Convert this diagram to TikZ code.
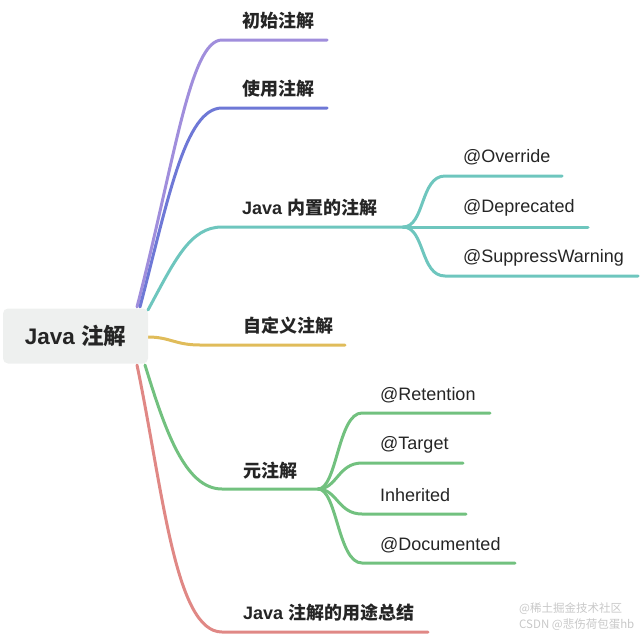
\documentclass[tikz,border=0pt]{standalone}
\usepackage{fontspec}
\setmainfont{Liberation Sans}
\newfontfamily\cjk{Noto Sans CJK SC}
\newcommand\zh[1]{{\cjk #1}}
\definecolor{cpurple}{HTML}{A08EDC}
\definecolor{cblue}{HTML}{6E78D6}
\definecolor{cteal}{HTML}{6EC6BE}
\definecolor{cyellow}{HTML}{E0BC5A}
\definecolor{cgreen}{HTML}{72C17F}
\definecolor{cred}{HTML}{E08885}
\definecolor{txt}{HTML}{252525}
\definecolor{rootfill}{HTML}{EEF0EF}
\definecolor{wm}{HTML}{C8C8C8}
\begin{document}
\begin{tikzpicture}[x=1pt,y=-1pt,
  br/.style={line width=3pt, line cap=round},
  lab/.style={anchor=west, inner sep=0pt, font=\fontsize{18}{21}\selectfont\bfseries, text=txt},
  sub/.style={anchor=west, inner sep=0pt, font=\fontsize{18}{21}\selectfont, text=txt},
  rootbox/.style={draw=none, fill=rootfill, rounded corners=5pt, minimum width=145pt, minimum height=55pt, inner sep=0pt, font=\fontsize{22.5}{26}\selectfont\bfseries, text=txt}]
\useasboundingbox (0,0) rectangle (640,635);
% start points at the root box
\coordinate (s1) at (137,307);
\coordinate (s2) at (140,307);
\coordinate (s3) at (148,310);
\coordinate (s4) at (148,337);
\coordinate (s5) at (145,365);
\coordinate (s6) at (137,365);
% branch ends
\coordinate (b1) at (222,40);  \coordinate (e1) at (327,40);
\coordinate (b2) at (222,108); \coordinate (e2) at (327,108);
\coordinate (b3) at (222,227); \coordinate (j3) at (403,227);
\coordinate (b4) at (200,345); \coordinate (e4) at (345,345);
\coordinate (b5) at (222,489); \coordinate (j5) at (318,489);
\coordinate (b6) at (222,632); \coordinate (e6) at (428,632);
% teal children
\coordinate (t1) at (445,176); \coordinate (t1e) at (562,176);
\coordinate (t2e) at (588,227);
\coordinate (t3) at (445,276); \coordinate (t3e) at (638,276);
% green children
\coordinate (g1) at (362,413); \coordinate (g1e) at (490,413);
\coordinate (g2) at (362,463); \coordinate (g2e) at (463,463);
\coordinate (g3) at (362,514); \coordinate (g3e) at (466,514);
\coordinate (g4) at (362,563); \coordinate (g4e) at (515,563);

\draw[br, cpurple] (s1) .. controls (175,160) and (190,40) .. (b1) -- (e1);
\draw[br, cblue] (s2) .. controls (168,200) and (185,108) .. (b2) -- (e2);
\draw[br, cteal] (s3) .. controls (175,260) and (190,227) .. (b3) -- (j3);
\draw[br, cyellow] (s4) .. controls (170,337) and (175,345) .. (b4) -- (e4);
\draw[br, cgreen] (s5) .. controls (165,430) and (185,489) .. (b5) -- (j5);
\draw[br, cred] (s6) .. controls (163,490) and (175,632) .. (b6) -- (e6);

\draw[br, cteal] (j3) .. controls (425,227) and (420,176) .. (t1) -- (t1e);
\draw[br, cteal] (j3) -- (t2e);
\draw[br, cteal] (j3) .. controls (425,227) and (420,276) .. (t3) -- (t3e);

\draw[br, cgreen] (j5) .. controls (337,489) and (338,413) .. (g1) -- (g1e);
\draw[br, cgreen] (j5) .. controls (337,489) and (338,463) .. (g2) -- (g2e);
\draw[br, cgreen] (j5) .. controls (337,489) and (338,514) .. (g3) -- (g3e);
\draw[br, cgreen] (j5) .. controls (337,489) and (338,563) .. (g4) -- (g4e);

\node[rootbox] (root) at (75.5,336) {Java \zh{注解}};

\node[lab] (n1) at (242,21) {\zh{初始注解}};
\node[lab] (n2) at (242,89) {\zh{使用注解}};
\node[lab] (n3) at (242,208) {Java \zh{内置的注解}};
\node[lab] (n4) at (243,326) {\zh{自定义注解}};
\node[lab] (n5) at (243,471) {\zh{元注解}};
\node[lab] (n6) at (243,613) {Java \zh{注解的用途总结}};

\node[sub] (c1) at (463,157) {@Override};
\node[sub] (c2) at (463,208) {@Deprecated};
\node[sub] (c3) at (463,258) {@SuppressWarning};

\node[sub] (d1) at (380,395) {@Retention};
\node[sub] (d2) at (380,445) {@Target};
\node[sub] (d3) at (380,495) {Inherited};
\node[sub] (d4) at (380,545) {@Documented};

\node[anchor=west, inner sep=0pt, text=wm, font=\fontsize{11.5}{13}\selectfont\cjk] (w1) at (519,609) {@稀土掘金技术社区};
\node[anchor=west, inner sep=0pt, text=wm, font=\fontsize{11.5}{13}\selectfont\cjk] (w2) at (519,625) {CSDN @悲伤荷包蛋hb};
\end{tikzpicture}
\end{document}
